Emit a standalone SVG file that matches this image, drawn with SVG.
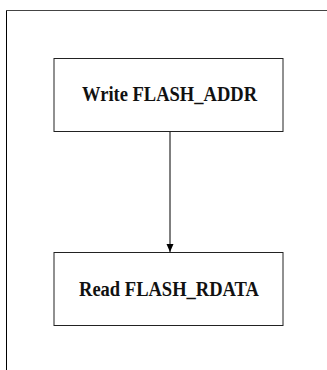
<svg xmlns="http://www.w3.org/2000/svg" width="327" height="370" viewBox="0 0 327 370">
<style>
.node rect{fill:#fff;stroke:#222;stroke-width:1}
.node text{font-family:"Liberation Serif","DejaVu Serif",serif;font-weight:bold;font-size:20px;fill:#111;text-anchor:middle}
.edge{stroke:#000;stroke-width:1;fill:none}
</style>
<defs>
<marker id="arr" viewBox="0 0 8 8" refX="8" refY="4" markerWidth="8" markerHeight="8" markerUnits="userSpaceOnUse" orient="auto">
<path d="M0,0.5 L8,4 L0,7.5 Z" fill="#000"/>
</marker>
</defs>
<rect x="0" y="0" width="327" height="370" fill="#fff"/>
<g id="frame">
<line x1="6.5" y1="10" x2="6.5" y2="370" stroke="#000" stroke-width="1"/>
<line x1="6" y1="10.5" x2="327" y2="10.5" stroke="#444" stroke-width="1"/>
</g>
<g id="connectors">
<line class="edge" x1="170" y1="131" x2="170" y2="252" marker-end="url(#arr)"/>
</g>
<g id="node1" class="node">
<rect x="54" y="58.5" width="229" height="73"/>
<text x="169.5" y="101" textLength="175" lengthAdjust="spacingAndGlyphs">Write FLASH_ADDR</text>
</g>
<g id="node2" class="node">
<rect x="54" y="252.5" width="229" height="73"/>
<text x="169" y="296" textLength="180" lengthAdjust="spacingAndGlyphs">Read FLASH_RDATA</text>
</g>
</svg>
